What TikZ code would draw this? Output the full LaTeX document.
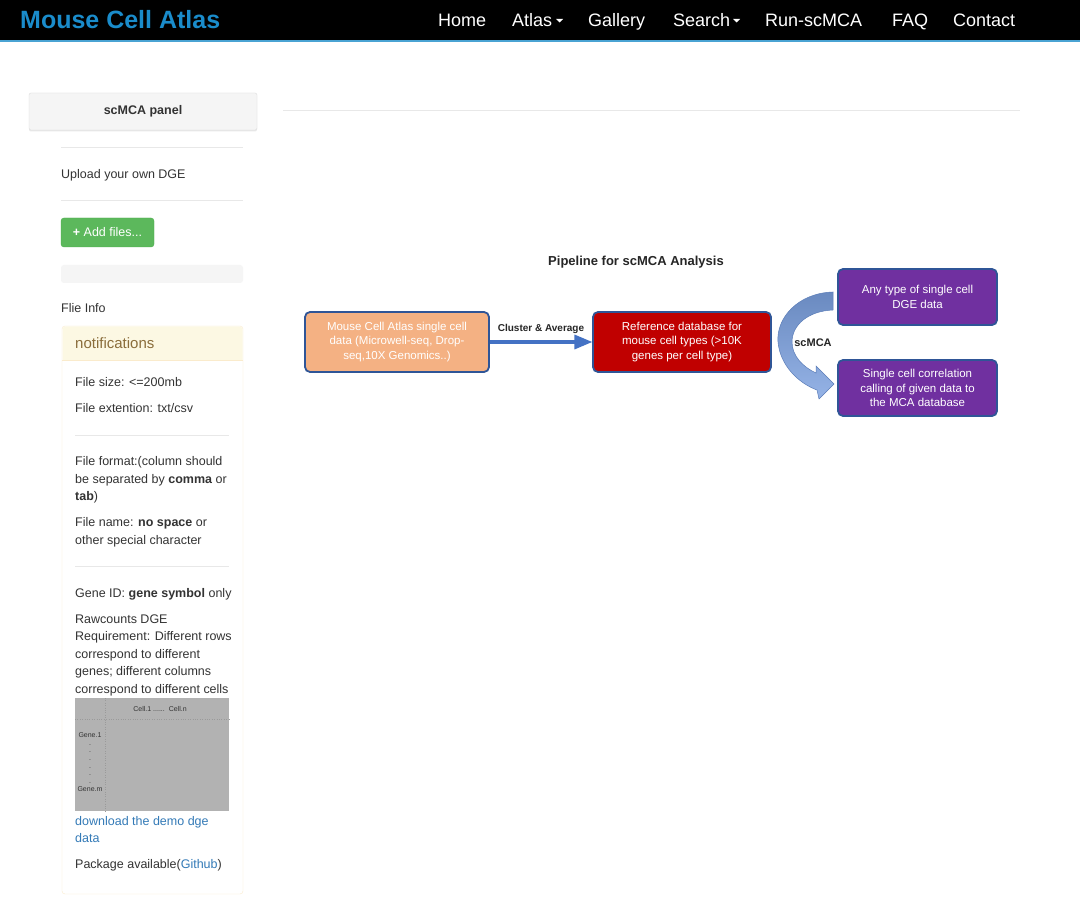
\documentclass[tikz,border=0pt]{standalone}
\usepackage{xcolor}
\usepackage{fontspec}
\setmainfont{Liberation Sans}
\usepackage{tikz}
\usetikzlibrary{arrows,positioning,shadows}
\definecolor{brandblue}{HTML}{1A8CCB}
\definecolor{navline}{HTML}{4AA3D3}
\definecolor{txtdark}{HTML}{333333}
\definecolor{linkblue}{HTML}{337AB7}
\definecolor{hrgray}{HTML}{E8E8E8}
\definecolor{btngray}{HTML}{F5F5F5}
\definecolor{btnline}{HTML}{DDDDDD}
\definecolor{btngreen}{HTML}{5CB85C}
\definecolor{btngreend}{HTML}{4CAE4C}
\definecolor{warnbg}{HTML}{FCF8E3}
\definecolor{warnline}{HTML}{FAEBCC}
\definecolor{warntxt}{HTML}{8A6D3B}
\definecolor{imggray}{HTML}{B2B2B2}
\definecolor{imgdot}{HTML}{9A9A9A}
\definecolor{boxline}{HTML}{2F5597}
\definecolor{boxorange}{HTML}{F4B183}
\definecolor{boxred}{HTML}{C00000}
\definecolor{boxpurple}{HTML}{7030A0}
\definecolor{arrblue}{HTML}{4472C4}
\definecolor{curvetop}{HTML}{6A8AC0}
\definecolor{curvebot}{HTML}{95B3E6}
\definecolor{curveline}{HTML}{5B7DB8}
\tikzstyle{nav_t} = [text=white, anchor=west, inner sep=0pt, text height=13pt, text depth=0pt, font=\fontsize{18}{20}\selectfont]
\tikzstyle{side_t} = [text=txtdark, anchor=west, inner sep=0pt, text height=9pt, text depth=0pt, font=\fontsize{12.5}{15}\selectfont]
\tikzstyle{link_t} = [side_t, text=linkblue]
\tikzstyle{tiny_t} = [text=txtdark, inner sep=0pt, font=\fontsize{7}{7.7}\selectfont]
\tikzstyle{hr_l} = [draw=hrgray, line width=0.8pt]
\tikzstyle{panel_b} = [rectangle, rounded corners=2pt, fill=btngray, draw=btnline, minimum width=228pt, minimum height=37pt, text=txtdark, font=\bfseries\fontsize{12.5}{15}\selectfont, drop shadow={opacity=.18, shadow xshift=0pt, shadow yshift=-1.5pt}]
\tikzstyle{green_b} = [rectangle, rounded corners=3pt, fill=btngreen, draw=btngreend, text=white, minimum width=93pt, minimum height=29pt, inner sep=0pt, font=\fontsize{12.5}{15}\selectfont]
\tikzstyle{bar_b} = [rectangle, rounded corners=3pt, fill=btngray, minimum width=182pt, minimum height=18pt]
\tikzstyle{img_b} = [rectangle, fill=imggray, minimum width=154pt, minimum height=113pt]
\tikzstyle{pipe_n} = [rectangle, rounded corners=5pt, draw=boxline, line width=1.8pt, text=white, align=center, inner sep=0pt, font=\fontsize{11.5}{14.5}\selectfont]
\tikzstyle{pipe_l} = [text=black!85, inner sep=0pt, font=\bfseries\fontsize{10}{12}\selectfont]

\begin{document}
\begin{tikzpicture}[x=1pt,y=-1pt,>=triangle 45]
\useasboundingbox (0,0) rectangle (1080,909);
\fill[white] (0,0) rectangle (1080,909);
\fill[black] (0,0) rectangle (1080,40.5);
\draw[navline, line width=1.2pt] (0,41) -- (1080,41);
\node[nav_t, text=brandblue, text height=18pt, font=\bfseries\fontsize{25}{28}\selectfont] (brand) at (20,20) {Mouse Cell Atlas};
\node[nav_t] (home) at (438,20) {Home};
\node[nav_t] (atlas) at (512,20) {Atlas};
\fill[white] (556,19) -- (563,19) -- (559.5,22.5) -- cycle;
\node[nav_t] (gallery) at (588,20) {Gallery};
\node[nav_t] (search) at (673,20) {Search};
\fill[white] (733,19) -- (740,19) -- (736.5,22.5) -- cycle;
\node[nav_t] (run) at (765,20) {Run-scMCA};
\node[nav_t] (faq) at (892,20) {FAQ};
\node[nav_t] (contact) at (953,20) {Contact};

\draw[hr_l] (283,110) -- (1020,110);

\node[panel_b] (panel) at (143,111.5) {scMCA panel};
\draw[hr_l] (61,147) -- (243,147);
\node[side_t] (upload) at (61,174) {Upload your own DGE};
\draw[hr_l] (61,200) -- (243,200);
\node[green_b] (add) at (107.5,232.5) {{\bfseries +} Add files...};
\node[bar_b] (bar) at (152,274) {};
\node[side_t] (finfo) at (61,308) {Flie Info};

\draw[warnline, fill=white, rounded corners=3pt] (62,326) rectangle (243,894);
\fill[warnbg] (62.5,360) [rounded corners=3pt] -- (62.5,326.5) -- (242.5,326.5) [sharp corners] -- (242.5,360) -- cycle;
\draw[warnline] (62,360) -- (243,360);
\node[side_t, text=warntxt, text height=10.8pt, font=\fontsize{15}{17}\selectfont] (notes) at (75,343) {notifications};
\node[side_t] (fsize) at (75,382) {File size: <=200mb};
\node[side_t] (fext) at (75,408) {File extention: txt/csv};
\draw[hr_l] (75,435) -- (229,435);
\node[side_t] (fform1) at (75,461) {File format:(column should};
\node[side_t] (fform2) at (75,479) {be separated by \textbf{comma} or};
\node[side_t] (fform3) at (75,496) {\textbf{tab})};
\node[side_t] (fname1) at (75,522) {File name: \textbf{no space} or};
\node[side_t] (fname2) at (75,540) {other special character};
\draw[hr_l] (75,566) -- (229,566);
\node[side_t] (gid) at (75,593) {Gene ID: \textbf{gene symbol} only};
\node[side_t] (raw1) at (75,619) {Rawcounts DGE};
\node[side_t] (raw2) at (75,636) {Requirement: Different rows};
\node[side_t] (raw3) at (75,654) {correspond to different};
\node[side_t] (raw4) at (75,671) {genes; different columns};
\node[side_t] (raw5) at (75,689) {correspond to different cells};

\node[img_b] (img) at (152,754.5) {};
\draw[imgdot, dotted] (105.5,698) -- (105.5,811);
\draw[imgdot, dotted] (75,719.5) -- (229,719.5);
\node[tiny_t] (cells) at (160,709) {Cell.1 ......\ \ Cell.n};
\node[tiny_t, align=center] (genes) at (90,762) {Gene.1\\.\\.\\.\\.\\.\\.\\Gene.m};

\node[link_t] (demo1) at (75,821) {download the demo dge};
\node[link_t] (demo2) at (75,838) {data};
\node[side_t] (pkg) at (75,864) {Package available(\textcolor{linkblue}{Github})};

\node[pipe_l, font=\bfseries\fontsize{13}{15}\selectfont] (title) at (636,262) {Pipeline for scMCA Analysis};
\node[pipe_n, fill=boxorange, minimum width=184pt, minimum height=60pt] (mca) at (397,342) {Mouse Cell Atlas single cell\\data (Microwell-seq, Drop-\\seq,10X Genomics..)};
\node[pipe_n, fill=boxred, minimum width=178pt, minimum height=60pt] (ref) at (682,342) {Reference database for\\mouse cell types (>10K\\genes per cell type)};
\node[pipe_n, fill=boxpurple, minimum width=159pt, minimum height=56pt] (dge) at (917.5,297) {Any type of single cell\\DGE data};
\node[pipe_n, fill=boxpurple, minimum width=159pt, minimum height=56pt] (corr) at (917.5,388) {Single cell correlation\\calling of given data to\\the MCA database};
\draw[->, arrblue, line width=3.2pt] (mca) -- node[pipe_l, above=7pt] (clu) {Cluster \& Average} (ref);

\shade[top color=curvetop, bottom color=curvebot, draw=curveline, line width=0.5pt]
  (833,292) .. controls (798,293) and (776,318) .. (778,342)
  .. controls (780,365) and (798,383) .. (817,390)
  -- (819,399) -- (834,384) -- (816,366)
  -- (816,373) .. controls (803,367) and (792,356) .. (792,342)
  .. controls (792,325) and (808,311) .. (833,310) -- cycle;
\node[pipe_l, font=\bfseries\fontsize{11}{13}\selectfont] (scmca) at (813,343) {scMCA};
\end{tikzpicture}
\end{document}
